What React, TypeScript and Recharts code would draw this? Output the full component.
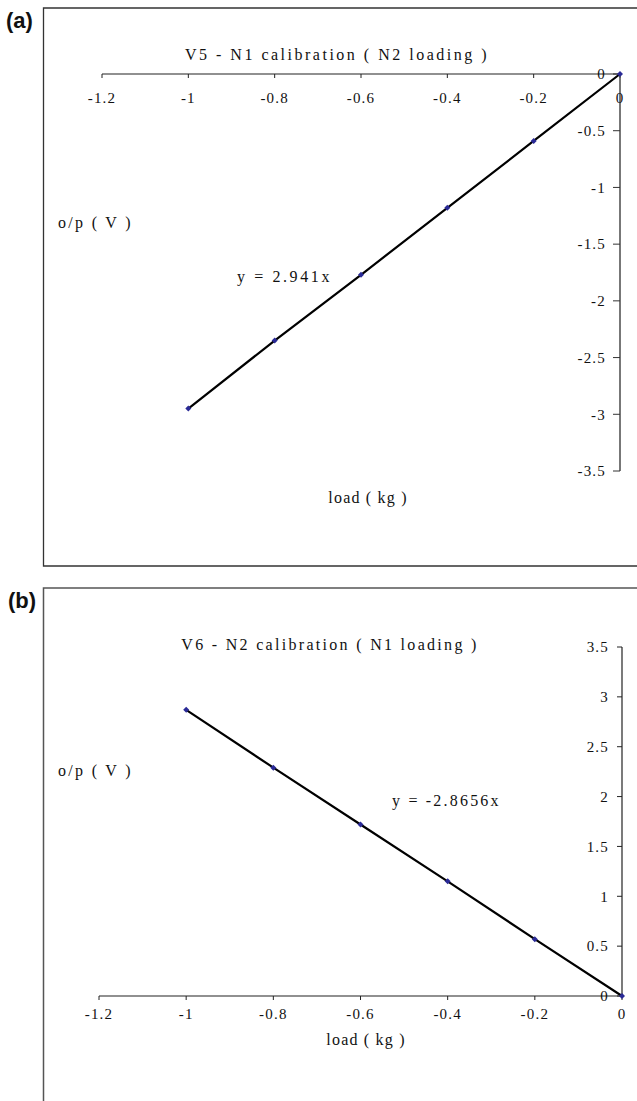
import React from 'react';
import { LineChart, Line, XAxis, YAxis } from 'recharts';

// Panel (a): V5 - N1 calibration (N2 loading)
const loadA = [-1, -0.8, -0.6, -0.4, -0.2, 0];
const outA = [-2.95, -2.35, -1.77, -1.18, -0.59, 0];
// Panel (b): V6 - N2 calibration (N1 loading)
const loadB = [-1, -0.8, -0.6, -0.4, -0.2, 0];
const outB = [2.87, 2.29, 1.72, 1.15, 0.57, 0];

const xTicks = [-1.2, -1, -0.8, -0.6, -0.4, -0.2, 0];
const yTicksA = [-3.5, -3, -2.5, -2, -1.5, -1, -0.5, 0];
const yTicksB = [0, 0.5, 1, 1.5, 2, 2.5, 3, 3.5];

const titleA = 'V5 - N1 calibration ( N2 loading )';
const titleB = 'V6 - N2 calibration ( N1 loading )';
const eqA = 'y = 2.941x';
const eqB = 'y = -2.8656x';
const yLabel = 'o/p ( V )';
const xLabel = 'load ( kg )';

const dataA = loadA.map((x, i) => ({ x, y: outA[i] }));
const dataB = loadB.map((x, i) => ({ x, y: outB[i] }));

const SERIF = '"Liberation Serif", "Times New Roman", serif';
const tickStyle = { fill: '#111', fontSize: 15, fontFamily: SERIF, letterSpacing: 1.2 };

const Diamond = (props: any) => {
  const { cx, cy, index } = props;
  if (cx == null || cy == null) return <g key={`e-${index}`} />;
  const r = 3;
  return (
    <path
      key={`d-${index}`}
      d={`M${cx},${cy - r}L${cx + r},${cy}L${cx},${cy + r}L${cx - r},${cy}Z`}
      fill="#2a2a96"
    />
  );
};

const fmt = (v: number) => String(v);

export default function App() {
  return (
    <div style={{ position: 'absolute', left: 0, top: 0, width: 637, height: 1101, background: '#fff', overflow: 'hidden' }}>
      <div style={{ position: 'absolute', left: 0, top: 0 }}>
        <LineChart width={637} height={580} data={dataA} margin={{ top: 74, right: 17, bottom: 109, left: 102 }}>
          <XAxis
            type="number"
            dataKey="x"
            orientation="top"
            mirror
            domain={[-1.2, 0]}
            ticks={xTicks}
            interval={0}
            tickFormatter={fmt}
            tick={tickStyle}
            tickSize={4}
            tickMargin={14}
            axisLine={{ stroke: '#222', strokeWidth: 1.2 }}
            tickLine={{ stroke: '#222' }}
          />
          <YAxis
            type="number"
            dataKey="y"
            orientation="right"
            mirror
            domain={[-3.5, 0]}
            ticks={yTicksA}
            interval={0}
            tickFormatter={fmt}
            tick={tickStyle}
            tickSize={7}
            tickMargin={7}
            axisLine={{ stroke: '#555', strokeWidth: 1.6 }}
            tickLine={{ stroke: '#333' }}
          />
          <Line
            dataKey="y"
            stroke="#000"
            strokeWidth={2.2}
            dot={Diamond}
            activeDot={false}
            isAnimationActive={false}
          />
        </LineChart>
      </div>
      <div style={{ position: 'absolute', left: 0, top: 580 }}>
        <LineChart width={637} height={521} data={dataB} margin={{ top: 67, right: 15, bottom: 75, left: 99 }}>
          <XAxis
            type="number"
            dataKey="x"
            orientation="bottom"
            height={30}
            domain={[-1.2, 0]}
            ticks={xTicks}
            interval={0}
            tickFormatter={fmt}
            tick={tickStyle}
            tickSize={4}
            tickMargin={8}
            axisLine={{ stroke: '#222', strokeWidth: 1.2 }}
            tickLine={{ stroke: '#222' }}
          />
          <YAxis
            type="number"
            dataKey="y"
            orientation="right"
            mirror
            domain={[0, 3.5]}
            ticks={yTicksB}
            interval={0}
            tickFormatter={fmt}
            tick={tickStyle}
            tickSize={5}
            tickMargin={8}
            axisLine={{ stroke: '#222', strokeWidth: 1.2 }}
            tickLine={{ stroke: '#222' }}
          />
          <Line
            dataKey="y"
            stroke="#000"
            strokeWidth={2.2}
            dot={Diamond}
            activeDot={false}
            isAnimationActive={false}
          />
        </LineChart>
      </div>
      <svg width={637} height={1101} style={{ position: 'absolute', left: 0, top: 0, pointerEvents: 'none' }}>
        {/* frames */}
        <path d="M637,8 L43.5,8 L43.5,566 L637,566" fill="none" stroke="#333" strokeWidth={1.3} />
        <path d="M637,588 L43.5,588 L43.5,1101" fill="none" stroke="#555" strokeWidth={1.5} />
        {/* panel letters */}
        <text x={6} y={28} fontFamily='"Liberation Sans", Arial, sans-serif' fontWeight="bold" fontSize={22} fill="#111">(a)</text>
        <text x={8} y={608} fontFamily='"Liberation Sans", Arial, sans-serif' fontWeight="bold" fontSize={22} fill="#111">(b)</text>
        {/* panel (a) texts */}
        <text x={337} y={60} textAnchor="middle" fontFamily={SERIF} fontSize={16} letterSpacing={2.5} fill="#111">{titleA}</text>
        <text x={58} y={228} fontFamily={SERIF} fontSize={16} letterSpacing={2.3} fill="#111">{yLabel}</text>
        <text x={237} y={282} fontFamily={SERIF} fontSize={16} letterSpacing={2.6} fill="#111">{eqA}</text>
        <text x={368} y={503} textAnchor="middle" fontFamily={SERIF} fontSize={16} letterSpacing={1.2} fill="#111">{xLabel}</text>
        {/* panel (b) texts */}
        <text x={330} y={650} textAnchor="middle" fontFamily={SERIF} fontSize={16} letterSpacing={2.3} fill="#111">{titleB}</text>
        <text x={58} y={776} fontFamily={SERIF} fontSize={16} letterSpacing={2.3} fill="#111">{yLabel}</text>
        <text x={392} y={806} fontFamily={SERIF} fontSize={16} letterSpacing={2.2} fill="#111">{eqB}</text>
        <text x={366} y={1045} textAnchor="middle" fontFamily={SERIF} fontSize={16} letterSpacing={1.2} fill="#111">{xLabel}</text>
      </svg>
    </div>
  );
}
